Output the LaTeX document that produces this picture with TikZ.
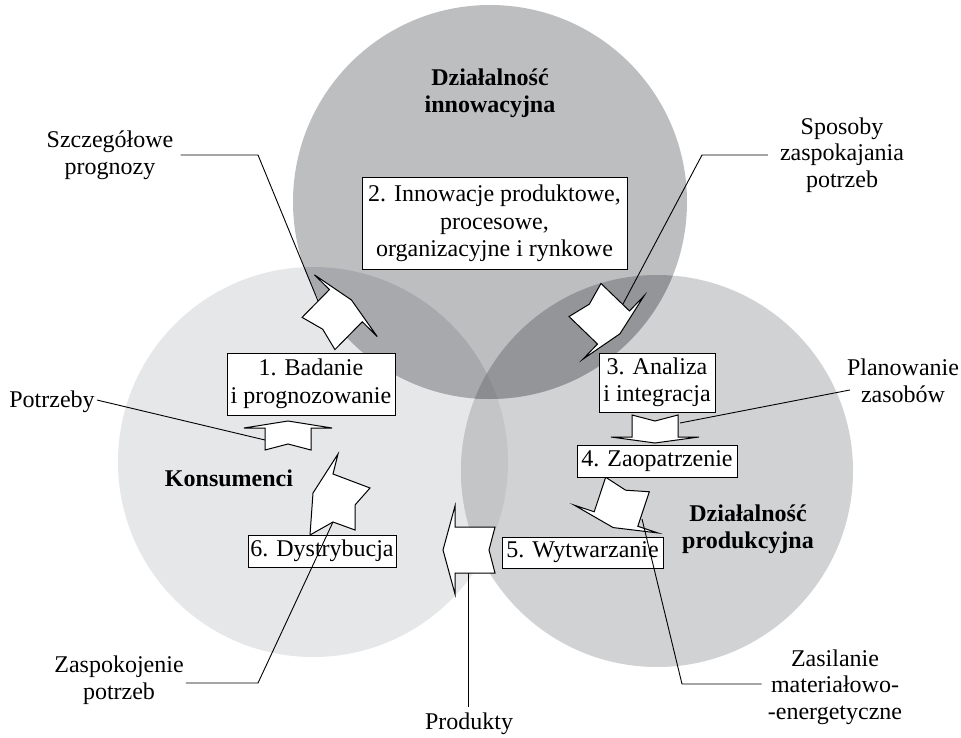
\documentclass[tikz,border=0pt]{standalone}
\usepackage{fontspec}
\setmainfont{Liberation Serif}
\definecolor{cL}{HTML}{E6E7E8}
\definecolor{cR}{HTML}{D1D2D4}
\definecolor{cT}{HTML}{BCBEC0}
\definecolor{cTL}{HTML}{A7A9AC}
\definecolor{cTR}{HTML}{939598}
\definecolor{cLR}{HTML}{C4C5C7}
\definecolor{cTLR}{HTML}{8A8C8F}
\newcommand{\blockarr}[5]{%
  \draw[barrow, shift={(#1,#2)}, rotate=#3]
    (0,23) -- (6,0) -- (0,-23) -- (#4,-23) -- (#4,-44) -- (#4+#5,0) -- (#4,44) -- (#4,23) -- cycle;}
\begin{document}
\begin{tikzpicture}[x=1pt,y=-1pt,
  box/.style={draw=black, line width=1pt, fill=white, inner sep=0pt, align=center,
              font=\fontsize{24}{27.5}\selectfont},
  lbl/.style={inner sep=0pt, align=center, font=\fontsize{24}{26.5}\selectfont},
  blbl/.style={inner sep=0pt, align=center, font=\fontsize{24}{27}\selectfont\bfseries},
  barrow/.style={draw=black, line width=1pt, fill=white, line join=miter},
  lead/.style={draw=black, line width=0.9pt}]
\useasboundingbox (0,0) rectangle (961,738);
\fill[white] (0,0) rectangle (961,738);
% circles
\fill[cL] (313,462) circle (195);
\fill[cR] (657,471) circle (196);
\fill[cT] (490,202) circle (197);
\begin{scope}\clip (313,462) circle (195); \fill[cLR] (657,471) circle (196); \end{scope}
\begin{scope}\clip (313,462) circle (195); \fill[cTL] (490,202) circle (197); \end{scope}
\begin{scope}\clip (657,471) circle (196); \fill[cTR] (490,202) circle (197); \end{scope}
\begin{scope}\clip (313,462) circle (195); \clip (657,471) circle (196); \fill[cTLR] (490,202) circle (197); \end{scope}
% block arrows
\blockarr{318.5}{333.5}{45.5}{39}{8}
\blockarr{585}{300}{-44}{39.6}{9}
\blockarr{288}{450}{90}{22}{7}
\blockarr{655}{415}{-90}{22}{6}
\blockarr{627.5}{484.5}{-108.4}{36.4}{9}
\blockarr{495}{550}{180}{40}{12}
\draw[barrow] (338,454) -- (333,474) -- (370,488) -- (355,505) -- (355,530) -- (333,522) -- (310,535) -- (313,493) -- cycle;
% boxes
\node[box, minimum width=265pt, minimum height=91pt] (b2) at (494.5,223.5) {2. Innowacje produktowe,\\procesowe,\\organizacyjne i rynkowe};
\node[box, minimum width=168pt, minimum height=62pt] (b1) at (311,384) {1. Badanie\\i prognozowanie};
\node[box, minimum width=116pt, minimum height=59pt] (b3) at (657,382.5) {3. Analiza\\i integracja};
\node[box, minimum width=160pt, minimum height=32pt] (b4) at (657,461) {4. Zaopatrzenie};
\node[box, minimum width=161pt, minimum height=31pt] (b5) at (582.5,552.5) {5. Wytwarzanie};
\node[box, minimum width=148pt, minimum height=32pt] (b6) at (322,551) {6. Dystrybucja};
% bold titles
\node[blbl] (tInn) at (490,93) {Działalność\\innowacyjna};
\node[blbl] (tKon) at (229,478) {Konsumenci};
\node[blbl] (tPro) at (748,529) {Działalność\\produkcyjna};
% labels
\node[lbl] (lA) at (110,155) {Szczegółowe\\prognozy};
\node[lbl] (lB) at (842,155) {Sposoby\\zaspokajania\\potrzeb};
\node[lbl] (lP) at (903,381) {Planowanie\\zasobów};
\node[lbl] (lPot) at (52,402) {Potrzeby};
\node[lbl] (lZ) at (119,680) {Zaspokojenie\\potrzeb};
\node[lbl] (lProd) at (469,724) {Produkty};
\node[lbl] (lZas) at (835,687) {Zasilanie\\materiałowo-\\-energetyczne};
% leader coordinates
\coordinate (kA) at (258,155);
\coordinate (eA) at (318,301);
\coordinate (kB) at (702,155);
\coordinate (eB) at (623,304);
\coordinate (eP) at (680,423);
\coordinate (ePot) at (265,440);
\coordinate (kZ) at (258,683);
\coordinate (eZ) at (333,522);
\coordinate (eProd) at (468,573);
\coordinate (kZas) at (682,684);
\coordinate (eZas) at (642,519);
% leader lines
\draw[lead] ([xshift=7pt]lA.east) -- (kA) -- (eA);
\draw[lead] ([xshift=-12pt]lB.west) -- (kB) -- (eB);
\draw[lead] ([xshift=3pt,yshift=-9pt]lP.west) -- (eP);
\draw[lead] ([xshift=2pt,yshift=2pt]lPot.east) -- (ePot);
\draw[lead] ([xshift=2pt,yshift=-3pt]lZ.east) -- (kZ) -- (eZ);
\draw[lead] (lProd.north -| eProd) ++(0,-6) -- (eProd);
\draw[lead] ([xshift=-6pt,yshift=3pt]lZas.west) -- (kZas) -- (eZas);
\end{tikzpicture}
\end{document}
